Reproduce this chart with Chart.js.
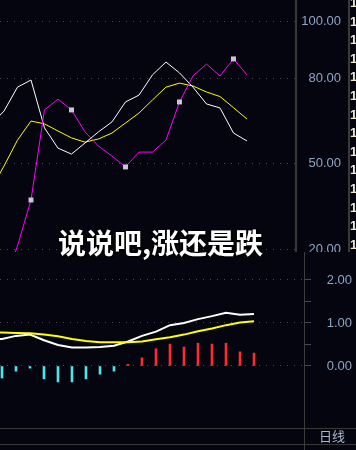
<!DOCTYPE html>
<html><head><meta charset="utf-8">
<script src="https://cdn.jsdelivr.net/npm/chart.js@4/dist/chart.umd.min.js"></script>
<style>
html,body{margin:0;padding:0;background:#04050e;}
#wrap{position:relative;width:356px;height:450px;overflow:hidden;background:#04050e;}
#c1{position:absolute;left:0;top:0;}
#c2{position:absolute;left:0;top:252px;}
.hl{position:absolute;left:0;width:356px;height:1px;background:#383838;}
.vl{position:absolute;width:1px;background:#3c3c3c;}
#title{position:absolute;left:58px;top:227px;white-space:nowrap;font:bold 28px "Noto Sans CJK SC",sans-serif;color:#fff;
 text-shadow:1px 1px 0 #000,-1px -1px 0 #000,1px -1px 0 #000,-1px 1px 0 #000,2px 2px 1px #000;line-height:30px;z-index:5;}
#period{position:absolute;left:319px;top:428px;font:13px "Noto Sans CJK SC",sans-serif;color:#a8b8d0;line-height:16px;}
#side{position:absolute;left:350px;top:0;width:6px;height:252px;}
#side span{position:absolute;left:0;font:bold 13px "Liberation Sans",sans-serif;color:#f2ead0;line-height:14px;}
</style></head>
<body>
<div id="wrap">
  <canvas id="c1" width="356" height="252"></canvas>
  <canvas id="c2" width="356" height="176"></canvas>
  <div class="vl" style="left:348px;top:0;height:252px;width:2px;background:#3a3a3a"></div>
  <div id="side"></div>
  <div class="hl" style="top:428px"></div>
  <div class="hl" style="top:444px"></div>
  <div class="vl" style="left:304px;top:428px;height:22px"></div>
  <div id="period">日线</div>
  <div id="title">说说吧,涨还是跌</div>
</div>
<script>
// ---- data ----
const days = [0,1,2,3,4,5,6,7,8,9,10,11,12,13,14,15,16,17,18,19];
const kVals = [63.5,68.4,76.8,79.3,62.5,55.4,53.3,57.2,61.1,64.6,71.6,74.0,81.1,85.6,81.8,76.8,70.9,69.5,60.7,57.9];
const dVals = [40.7,49.1,58.2,64.9,63.9,61.4,59.0,57.5,58.6,60.7,64.2,67.7,72.3,76.8,78.2,77.2,75.1,73.5,69.6,65.6];
const jVals = [5,8,21.1,37.2,68.8,72.6,68.8,61.1,56.1,52.6,48.8,54.0,54.0,58.2,71.6,80.7,84.9,80.7,86.7,81.1];
const jMarkIdx = [3,6,10,14,18];
const kdjTicks = [100,80,50,20];
const difVals = [0.60,0.63,0.70,0.73,0.60,0.49,0.43,0.43,0.44,0.47,0.57,0.70,0.80,0.95,1.00,1.09,1.16,1.24,1.19,1.21];
const deaVals = [0.79,0.78,0.77,0.76,0.73,0.69,0.63,0.58,0.55,0.55,0.55,0.57,0.62,0.67,0.73,0.81,0.87,0.95,1.01,1.04];
const macdVals = [null,-0.28,-0.12,-0.05,-0.30,-0.37,-0.37,-0.30,-0.19,-0.12,0.04,0.19,0.40,0.51,0.44,0.53,0.51,0.53,0.33,0.30];
const macdTicks = [0,0.5,1,1.5,2];
const macdLabelTicks = [0,1,2];
const sideDigits = ['1','1','1','1','1','1','1','1','1','1','1','1','1','1'];

// side column text
const side = document.getElementById('side');
sideDigits.forEach((t,i)=>{const s=document.createElement('span');s.textContent=t;s.style.top=(-4+18.6*i)+'px';side.appendChild(s);});

const pts = arr => arr.map((v,i)=>({x:days[i],y:v}));
const gridDash = [1,6];
const gridColor = '#4a4a4a';
const labelFont = {family:'Liberation Sans', size:13};
const labelColor = '#8fa5c6';
const noPad = s => { s.paddingTop = 0; s.paddingBottom = 0; s.paddingLeft = 0; s.paddingRight = 0; };

new Chart(document.getElementById('c1'), {
  type:'line',
  data:{datasets:[
    {data:pts(jVals),borderColor:'#ff00ff',borderWidth:1,tension:0,
     pointStyle:'rect',pointRadius:c=>jMarkIdx.includes(c.dataIndex)?3.5:0,
     pointBackgroundColor:'#cbc5d8',pointBorderWidth:0},
    {data:pts(kVals),borderColor:'#ffffff',borderWidth:1,tension:0,pointRadius:0},
    {data:pts(dVals),borderColor:'#ffff00',borderWidth:1,tension:0,pointRadius:0}
  ]},
  options:{
    responsive:false,animation:false,events:[],
    layout:{padding:{left:0,top:0,bottom:0,right:15},autoPadding:false},
    plugins:{legend:{display:false},tooltip:{enabled:false}},
    scales:{
      x:{type:'linear',min:0.7037,max:22.63,display:false,offset:false},
      y:{type:'linear',position:'right',min:18.95,max:107.37,
        afterBuildTicks:s=>{s.ticks=kdjTicks.map(v=>({value:v}));},
        afterFit:s=>{s.width=45; noPad(s);},
        grid:{color:gridColor,drawTicks:false,lineWidth:1},
        border:{display:true,color:'#383838',width:2,dash:gridDash},
        ticks:{font:labelFont,color:labelColor,crossAlign:'far',padding:5,
          callback:v=>Number(v).toFixed(2)}
      }
    }
  }
});

new Chart(document.getElementById('c2'), {
  type:'bar',
  data:{datasets:[
    {type:'line',data:pts(deaVals),borderColor:'#ffff00',borderWidth:2,tension:0,pointRadius:0},
    {type:'line',data:pts(difVals),borderColor:'#ffffff',borderWidth:2,tension:0,pointRadius:0},
    {type:'bar',data:pts(macdVals),barThickness:2,
     backgroundColor:c=>(c.raw&&c.raw.y<0)?'#4fe3ea':'#ff2b2b',borderWidth:0}
  ]},
  options:{
    responsive:false,animation:false,events:[],
    layout:{padding:{left:0,top:0,bottom:0,right:4},autoPadding:false},
    plugins:{legend:{display:false},tooltip:{enabled:false}},
    scales:{
      x:{type:'linear',min:0.857,max:22.571,display:false,offset:false,grid:{offset:false}},
      y:{type:'linear',position:'right',min:-1.442,max:2.651,
        afterBuildTicks:s=>{s.ticks=macdTicks.map(v=>({value:v}));},
        afterFit:s=>{s.width=48; noPad(s);},
        grid:{color:c=>macdLabelTicks.includes(c.tick&&c.tick.value)?gridColor:'rgba(0,0,0,0)',
              tickColor:'#4a4a4a',drawTicks:true,tickLength:7,lineWidth:1},
        border:{display:true,color:'#3c3c3c',width:1,dash:gridDash},
        ticks:{font:labelFont,color:labelColor,crossAlign:'far',padding:4,
          callback:v=>macdLabelTicks.includes(v)?Number(v).toFixed(2):''}
      }
    }
  }
});
</script>
</body></html>
